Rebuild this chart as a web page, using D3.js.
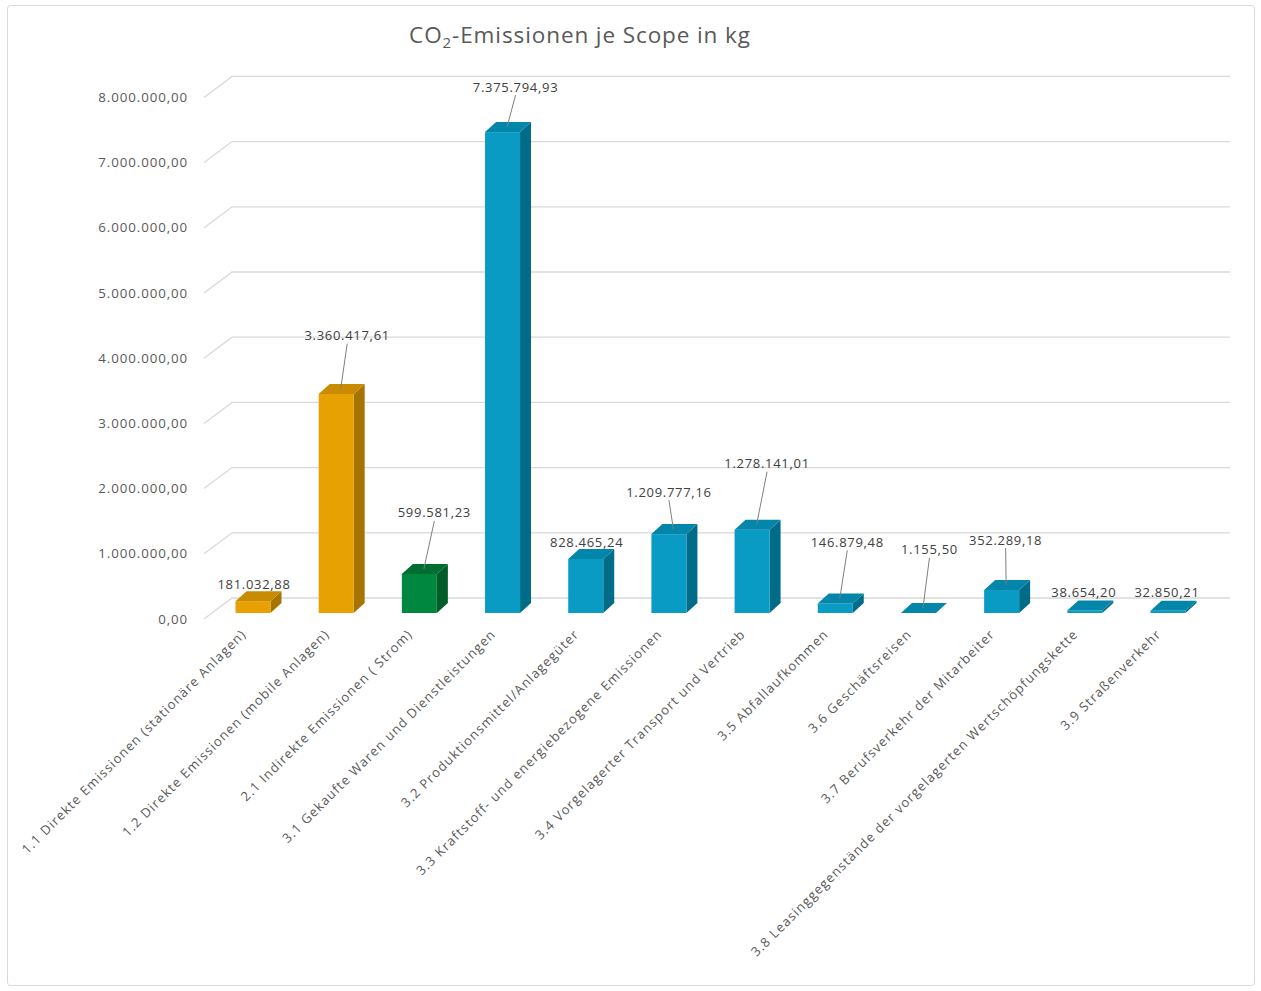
<!DOCTYPE html>
<html><head><meta charset="utf-8">
<script src="https://cdn.jsdelivr.net/npm/d3@7"></script>
<style>
html,body{margin:0;padding:0;background:#fff;}
svg{display:block;font-family:"Open Sans",sans-serif;}
</style></head>
<body><svg id="c" width="1261" height="991"></svg>
<script>
// ---- data ----
const categories = [
  "1.1 Direkte Emissionen (stationäre Anlagen)",
  "1.2 Direkte Emissionen (mobile Anlagen)",
  "2.1 Indirekte Emissionen ( Strom)",
  "3.1 Gekaufte Waren und Dienstleistungen",
  "3.2 Produktionsmittel/Anlagegüter",
  "3.3 Kraftstoff- und energiebezogene Emissionen",
  "3.4 Vorgelagerter Transport und Vertrieb",
  "3.5 Abfallaufkommen",
  "3.6 Geschäftsreisen",
  "3.7 Berufsverkehr der Mitarbeiter",
  "3.8 Leasinggegenstände der vorgelagerten Wertschöpfungskette",
  "3.9 Straßenverkehr"
];
const values = [181032.88, 3360417.61, 599581.23, 7375794.93, 828465.24, 1209777.16,
                1278141.01, 146879.48, 1155.50, 352289.18, 38654.20, 32850.21];
const scopes = ["s1","s1","s2","s3","s3","s3","s3","s3","s3","s3","s3","s3"];
const yTicks = [0,1000000,2000000,3000000,4000000,5000000,6000000,7000000,8000000];
const titleParts = ["CO", "2", "-Emissionen je Scope in kg"];

// ---- layout (not data) ----
const labelShift = [[1,-17],[11,-58],[15,-61],[13,-45],[1,-17],[0,-42],[15,-66],[12,-61],[11,-63],[4,-50],[-1,-18],[-1,-18]];
const hasLeader = [false,true,true,true,false,true,true,true,true,true,false,false];
const colors = {
  s1:{front:"#E8A102", side:"#A67400", top:"#C98B00"},
  s2:{front:"#00873F", side:"#005C2B", top:"#006E33"},
  s3:{front:"#0A9BC4", side:"#016C8A", top:"#0386AA"}
};

const svg = d3.select("#c");
const fmt = d3.formatLocale({decimal:",", thousands:".", grouping:[3], currency:["","€"]}).format(",.2f");

// frame
svg.append("rect").attr("x",7.5).attr("y",5.5).attr("width",1247).attr("height",980)
  .attr("rx",3).attr("fill","#fff").attr("stroke","#d9d9d9").attr("stroke-width",1);

const y = d3.scaleLinear().domain([0,8000000]).range([613,91.4]);
const x = d3.scalePoint().domain(categories).range([253,1168]);
const bw = 35, dx = 11, dy = 10;
const backDX = 232, frontDX = 204, backRight = 1230;

// gridlines (back wall + left wall diagonal)
const g = svg.append("g");
yTicks.forEach(t=>{
  const yb = y(t) - 15, yf = y(t) + 6;
  g.append("path").attr("d",`M${frontDX},${yf}L${backDX},${yb}L${backRight},${yb}`)
    .attr("fill","none").attr("stroke","#d9d9d9").attr("stroke-width",1.3);
  g.append("text").attr("x",188).attr("y",yf).attr("dy","0.35em").attr("text-anchor","end")
    .attr("font-size",13.3).attr("letter-spacing","0.9").attr("fill","#595959").text(fmt(t));
});

// bars
const bars = svg.append("g");
categories.forEach((c,i)=>{
  const v = values[i], col = colors[scopes[i]];
  const cx = x(c), xl = cx - bw/2, xr = cx + bw/2, yt = y(v), yb = y(0);
  bars.append("path").attr("d",`M${xr},${yt}L${xr+dx},${yt-dy}L${xr+dx},${yb-dy}L${xr},${yb}Z`).attr("fill",col.side);
  bars.append("rect").attr("x",xl).attr("y",yt).attr("width",bw).attr("height",Math.max(0,yb-yt)).attr("fill",col.front);
  bars.append("path").attr("d",`M${xl},${yt}L${xl+dx},${yt-dy}L${xr+dx},${yt-dy}L${xr},${yt}Z`).attr("fill",col.top);
});

// data labels
const lab = svg.append("g");
categories.forEach((c,i)=>{
  const v = values[i];
  const lx = x(c) + labelShift[i][0], ly = y(v) + labelShift[i][1];
  if (hasLeader[i]) {
    lab.append("line").attr("x1",lx).attr("y1",ly+8).attr("x2",x(c)+dx/2 - 1).attr("y2",y(v)-dy/2)
      .attr("stroke","#7f7f7f").attr("stroke-width",1);
  }
  lab.append("text").attr("x",lx).attr("y",ly).attr("dy","0.35em").attr("text-anchor","middle")
    .attr("font-size",13).attr("fill","#404040").attr("letter-spacing","0.7").text(fmt(v));
});

// category labels
const cl = svg.append("g");
categories.forEach((c,i)=>{
  const px = x(c) - 6, py = 635;
  cl.append("text").attr("transform",`translate(${px},${py}) rotate(-45)`)
    .attr("text-anchor","end").attr("font-size",13).attr("letter-spacing","1.1").attr("fill","#595959").text(c);
});

// title
const tt = svg.append("text").attr("x",580).attr("y",43).attr("text-anchor","middle")
  .attr("font-size",22.5).attr("letter-spacing","0.9").attr("fill","#595959");
tt.append("tspan").text(titleParts[0]);
tt.append("tspan").attr("font-size",15).attr("dy",5).text(titleParts[1]);
tt.append("tspan").attr("dy",-5).text(titleParts[2]);
</script></body></html>
